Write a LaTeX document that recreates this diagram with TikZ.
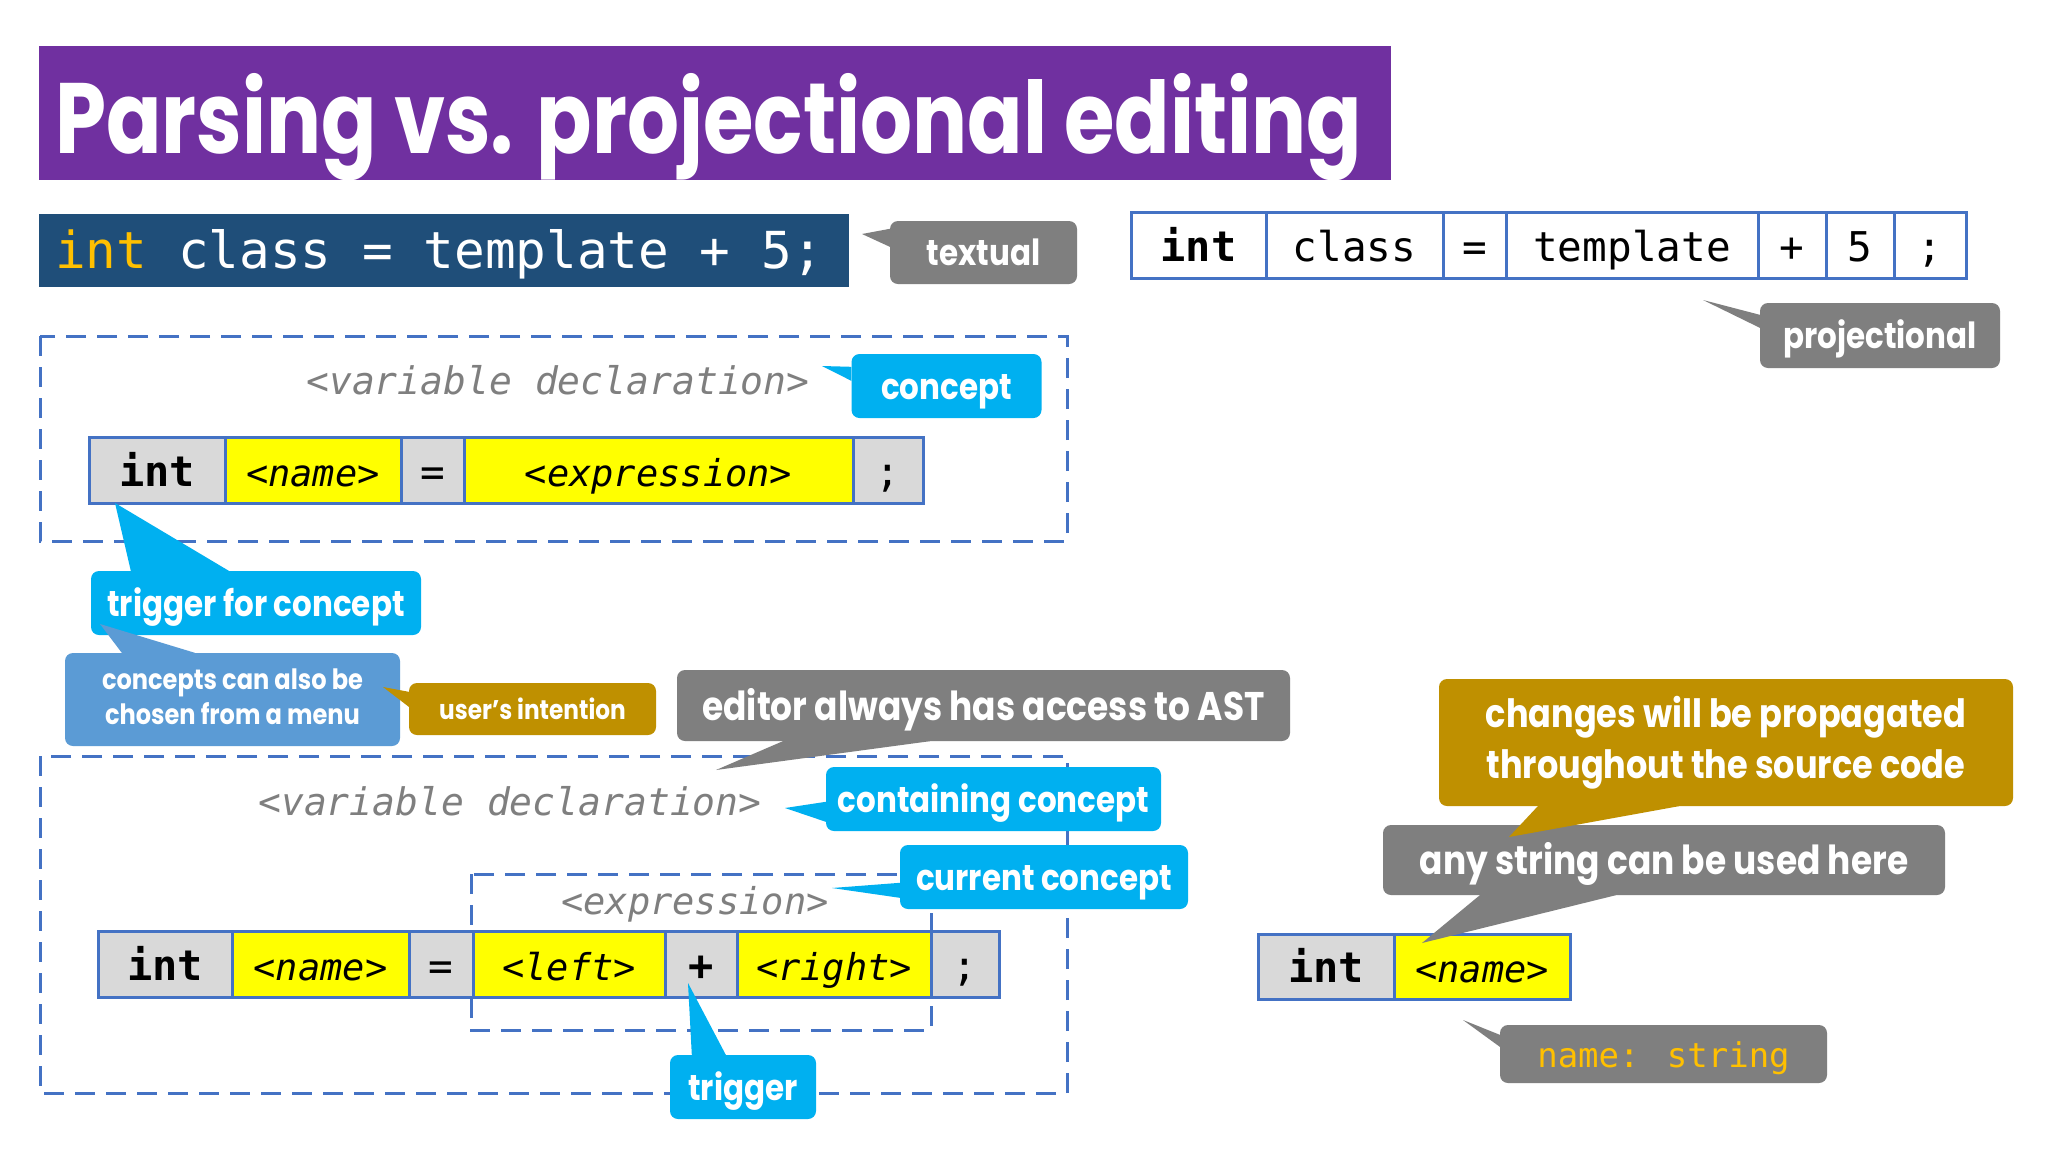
\documentclass[tikz,border=0pt]{standalone}
\usepackage{fontspec}
\usepackage{graphicx}
\usetikzlibrary{positioning,calc}

\newfontfamily\slidefont{Poppins}
\newfontfamily\codefont{DejaVu Sans Mono}

\definecolor{titlepurple}{HTML}{7030A0}
\definecolor{codeblue}{HTML}{1F4E79}
\definecolor{codegold}{HTML}{FFC000}
\definecolor{cellblue}{HTML}{4472C4}
\definecolor{cellgray}{HTML}{D9D9D9}
\definecolor{holeyellow}{HTML}{FFFF00}
\definecolor{notegray}{HTML}{7F7F7F}
\definecolor{notecyan}{HTML}{00B0F0}
\definecolor{noteblue}{HTML}{5B9BD5}
\definecolor{notegold}{HTML}{BF9000}

\newcommand{\narrow}[1]{\scalebox{0.86}[1]{#1}}

\tikzset{
  cell/.style={draw=cellblue, line width=3pt, outer sep=0pt, inner sep=0pt, minimum height=66pt, text height=34pt, text depth=2pt, font=\codefont\fontsize{41}{41}\selectfont},
  kwfont/.style={font=\codefont\bfseries\fontsize{42}{42}\selectfont},
  kwcell/.style={cell, fill=cellgray, kwfont},
  symcell/.style={cell, fill=cellgray},
  holecell/.style={cell, fill=holeyellow, font=\codefont\itshape\fontsize{37}{37}\selectfont},
  textcell/.style={cell, fill=white},
  note/.style={rounded corners=8pt, inner sep=0pt, text=white, font=\slidefont\bfseries\fontsize{36}{36}\selectfont},
  onenote/.style={note, text height=26pt, text depth=0pt},
  bignote/.style={note, text height=29pt, text depth=0pt, font=\slidefont\bfseries\fontsize{40}{40}\selectfont},
  dashbox/.style={draw=cellblue, line width=3pt, dash pattern=on 20pt off 11pt},
  conceptlabel/.style={inner sep=0pt, anchor=base, text=notegray, font=\codefont\itshape\fontsize{38}{38}\selectfont}
}

\begin{document}
\begin{tikzpicture}[x=1pt,y=1pt,yscale=-1,xscale=1]
	\useasboundingbox[fill=white] (0,0) rectangle (2048,1152);

	% title
	\node[fill=titlepurple, minimum width=1352pt, minimum height=134pt, inner sep=0pt, anchor=north west] (titlebar) at (39,46) {};
	\node[anchor=base west, inner sep=0pt, text=white, font=\slidefont\bfseries\fontsize{100}{100}\selectfont] (titletext) at (55,153) {\resizebox{1307pt}{\height}{Parsing vs. projectional editing}};

	% textual
	\node[fill=codeblue, minimum width=810pt, minimum height=73pt, inner sep=0pt, anchor=north west] (codebar) at (39,214) {};
	\node[anchor=base west, inner sep=0pt, text=white, font=\codefont\fontsize{51}{51}\selectfont] (codeline) at (55,268) {\textcolor{codegold}{int} class = template + 5;};
	\node[onenote, fill=notegray, minimum width=187pt, minimum height=63pt] (textual) at (983.5,252.5) {\narrow{textual}};
	\coordinate (textualtip) at (862,234);
	\fill[notegray] (textualtip) -- ($(textual.north west)+(0,8)$) -- ($(textual.north west)+(0,26)$) -- cycle;

	% projectional
	\node[textcell, kwfont, minimum width=135pt, anchor=west] (pint) at (1131,245) {int};
	\node[textcell, minimum width=177pt, right=0pt of pint] (pclass) {class};
	\node[textcell, minimum width=63pt, right=0pt of pclass] (peq) {=};
	\node[textcell, minimum width=252pt, right=0pt of peq] (ptempl) {template};
	\node[textcell, minimum width=68pt, right=0pt of ptempl] (pplus) {+};
	\node[textcell, minimum width=68pt, right=0pt of pplus] (pfive) {5};
	\node[textcell, minimum width=72pt, right=0pt of pfive] (psemi) {;};
	\node[onenote, fill=notegray, minimum width=240pt, minimum height=65pt] (projnote) at (1880,335.5) {\narrow{projectional}};
	\coordinate (projtip) at (1703,300);
	\fill[notegray] (projtip) -- ($(projnote.north west)+(0,12)$) -- ($(projnote.north west)+(0,25)$) -- cycle;

	% concept
	\draw[dashbox] (40,336) rectangle (1067,541);
	\node[conceptlabel] (vardecl) at (558,394) {<variable declaration>};
	\node[kwcell, minimum width=136pt, anchor=west] (aint) at (89,470) {int};
	\node[holecell, minimum width=176pt, right=0pt of aint] (aname) {<name>};
	\node[symcell, minimum width=63pt, right=0pt of aname] (aeq) {=};
	\node[holecell, minimum width=389pt, right=0pt of aeq] (aexpr) {<expression>};
	\node[symcell, minimum width=70pt, right=0pt of aexpr] (asemi) {;};
	\node[onenote, fill=notecyan, minimum width=190pt, minimum height=64pt] (conceptnote) at (946.5,386) {\narrow{concept}};
	\coordinate (concepttip) at (822,366);
	\fill[notecyan] (concepttip) -- ($(conceptnote.north west)+(0,13)$) -- ($(conceptnote.north west)+(0,27)$) -- cycle;

	% trigger and menu
	\node[onenote, fill=notecyan, minimum width=330pt, minimum height=64pt] (trigconcept) at (256,603) {\narrow{trigger for concept}};
	\coordinate (trigconcepttip) at (115,503);
	\fill[notecyan] (trigconcepttip) -- ($(trigconcept.north west)+(40,0)$) -- ($(trigconcept.north west)+(138,0)$) -- cycle;
	\node[note, fill=noteblue, minimum width=335pt, minimum height=93pt, font=\slidefont\bfseries\fontsize{28}{35}\selectfont] (menunote) at (232.5,699.5) {\narrow{\begin{tabular}{@{}c@{}}concepts can also be\\chosen from a menu\end{tabular}}};
	\coordinate (menutip) at (100,624);
	\fill[noteblue] (menutip) -- ($(menunote.north west)+(57,0)$) -- ($(menunote.north west)+(130,0)$) -- cycle;
	\node[note, fill=notegold, minimum width=247pt, minimum height=52pt, text height=20pt, text depth=0pt, font=\slidefont\bfseries\fontsize{27}{27}\selectfont] (intention) at (532.5,709) {\narrow{user’s intention}};
	\coordinate (intentiontip) at (383,687);
	\fill[notegold] (intentiontip) -- ($(intention.north west)+(0,9)$) -- ($(intention.north west)+(0,24)$) -- cycle;

	% containing and current concept
	\draw[dashbox] (40,756) rectangle (1067,1093);
	\draw[dashbox] (471,874) rectangle (931,1030);
	\node[conceptlabel] (vardecltwo) at (510,815) {<variable declaration>};
	\node[conceptlabel, font=\codefont\itshape\fontsize{37}{37}\selectfont] (exprlabel) at (695,914) {<expression>};
	\node[kwcell, minimum width=134pt, anchor=west] (bint) at (98,964.5) {int};
	\node[holecell, minimum width=177pt, right=0pt of bint] (bname) {<name>};
	\node[symcell, minimum width=64pt, right=0pt of bname] (beq) {=};
	\node[holecell, minimum width=192pt, right=0pt of beq] (bleft) {<left>};
	\node[symcell, kwfont, minimum width=72pt, right=0pt of bleft] (bplus) {+};
	\node[holecell, minimum width=194pt, right=0pt of bplus] (bright) {<right>};
	\node[symcell, minimum width=68pt, right=0pt of bright] (bsemi) {;};
	\node[bignote, fill=notegray, minimum width=613pt, minimum height=71pt] (astnote) at (983.5,705.5) {\narrow{editor always has access to AST}};
	\coordinate (asttip) at (716,770);
	\fill[notegray] (asttip) -- ($(astnote.south west)+(106,0)$) -- ($(astnote.south west)+(253,0)$) -- cycle;
	\node[onenote, fill=notecyan, minimum width=335pt, minimum height=64pt] (containing) at (993.5,799) {\narrow{containing concept}};
	\coordinate (containingtip) at (785,808);
	\fill[notecyan] (containingtip) -- ($(containing.north west)+(0,35)$) -- ($(containing.north west)+(0,55)$) -- cycle;
	\node[onenote, fill=notecyan, minimum width=288pt, minimum height=64pt] (current) at (1044,877) {\narrow{current concept}};
	\coordinate (currenttip) at (832,888);
	\fill[notecyan] (currenttip) -- ($(current.north west)+(0,38)$) -- ($(current.north west)+(0,53)$) -- cycle;
	\node[onenote, fill=notecyan, minimum width=146pt, minimum height=64pt] (trigger) at (743,1087) {\narrow{trigger}};
	\coordinate (triggertip) at (688,983);
	\fill[notecyan] (triggertip) -- ($(trigger.north west)+(22,0)$) -- ($(trigger.north west)+(56,0)$) -- cycle;

	% name property
	\node[kwcell, minimum width=136pt, minimum height=65pt, anchor=west] (cint) at (1258,966.5) {int};
	\node[holecell, minimum width=176pt, minimum height=65pt, right=0pt of cint] (cname) {<name>};
	\node[bignote, fill=notegray, minimum width=562pt, minimum height=70pt] (anystring) at (1664,860) {\narrow{any string can be used here}};
	\coordinate (anystringtip) at (1422,943);
	\fill[notegray] (anystringtip) -- ($(anystring.south west)+(97,0)$) -- ($(anystring.south west)+(233,0)$) -- cycle;
	\node[note, fill=notegold, minimum width=574pt, minimum height=127pt, font=\slidefont\bfseries\fontsize{39}{51}\selectfont] (changes) at (1726,742.5) {\narrow{\begin{tabular}{@{}c@{}}changes will be propagated\\throughout the source code\end{tabular}}};
	\coordinate (changestip) at (1509,837);
	\fill[notegold] (changestip) -- ($(changes.south west)+(99,0)$) -- ($(changes.south west)+(240,0)$) -- cycle;
	\node[note, fill=notegray, text=codegold, minimum width=327pt, minimum height=58pt, text height=26pt, text depth=0pt, font=\codefont\fontsize{34}{34}\selectfont] (nametype) at (1663.5,1054) {name: string};
	\coordinate (nametypetip) at (1463,1020);
	\fill[notegray] (nametypetip) -- ($(nametype.north west)+(0,10)$) -- ($(nametype.north west)+(0,22)$) -- cycle;
\end{tikzpicture}
\end{document}
